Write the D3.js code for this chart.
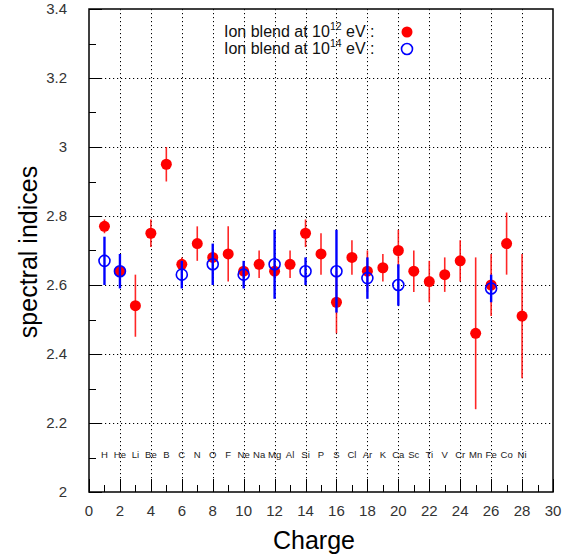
<!DOCTYPE html>
<html>
<head>
<meta charset="utf-8">
<script src="https://cdn.jsdelivr.net/npm/d3@7"></script>
<style>
  html, body { margin: 0; padding: 0; background: #fff; }
  svg { display: block; }
  text { font-family: "Liberation Sans", Arial, Helvetica, sans-serif; }
</style>
</head>
<body>
<svg id="chart" width="575" height="557"></svg>
<script>
// Element symbols by nuclear charge
const elements = ["H","He","Li","Be","B","C","N","O","F","Ne","Na","Mg","Al","Si",
  "P","S","Cl","Ar","K","Ca","Sc","Ti","V","Cr","Mn","Fe","Co","Ni"];
const charges = d3.range(1, 29);

// Spectral indices for the ion blend at 10^12 eV (Z = 1..28)
const index12 = [2.77,2.64,2.54,2.75,2.95,2.66,2.72,2.68,2.69,2.64,2.66,2.64,2.66,2.75,
  2.69,2.55,2.68,2.64,2.65,2.70,2.64,2.61,2.63,2.67,2.46,2.60,2.72,2.51];
const errLo12 = [0.02,0.01,0.09,0.04,0.05,0.02,0.05,0.02,0.08,0.02,0.04,0.02,0.04,0.04,
  0.06,0.09,0.05,0.06,0.04,0.05,0.06,0.06,0.05,0.06,0.22,0.09,0.09,0.18];
const errHi12 = [0.02,0.01,0.09,0.04,0.05,0.02,0.05,0.02,0.08,0.02,0.04,0.02,0.04,0.04,
  0.06,0.09,0.05,0.06,0.04,0.06,0.06,0.06,0.05,0.06,0.22,0.09,0.09,0.18];

// Spectral indices for the ion blend at 10^14 eV
const charges14 = [1, 2, 6, 8, 10, 12, 14, 16, 18, 20, 26];
const index14 = [2.67,2.64,2.63,2.66,2.63,2.66,2.64,2.64,2.62,2.60,2.59];
const errLo14 = [0.07,0.05,0.04,0.06,0.04,0.10,0.04,0.12,0.06,0.06,0.04];
const errHi14 = [0.07,0.05,0.04,0.06,0.04,0.10,0.04,0.12,0.06,0.06,0.04];

// Axis ticks
const xMajor = d3.range(0, 31, 2);
const xMinor = d3.range(0, 31, 1);
const yMajor = [2.0, 2.2, 2.4, 2.6, 2.8, 3.0, 3.2, 3.4];
const yMinor = d3.range(0, 15).map(i => 2 + i * 0.1);

const legendLabels = [
  { base: "Ion blend at 10", exp: "12", tail: " eV :" },
  { base: "Ion blend at 10", exp: "14", tail: " eV :" }
];

const svg = d3.select("#chart");
const L = 89, R = 553, T = 9, B = 492;
const x = d3.scaleLinear().domain([0, 30]).range([L, R]);
const y = d3.scaleLinear().domain([2, 3.4]).range([B, T]);

// Dotted grid
const grid = svg.append("g").attr("stroke", "#000").attr("stroke-width", 1)
  .attr("stroke-dasharray", "1.2,2.8");
grid.selectAll("line.gx").data(xMajor.filter(v => v > 0 && v < 30)).join("line")
  .attr("x1", d => Math.round(x(d)) + 0.5).attr("x2", d => Math.round(x(d)) + 0.5)
  .attr("y1", T).attr("y2", B);
grid.selectAll("line.gy").data(yMajor.filter(v => v > 2 && v < 3.4)).join("line")
  .attr("y1", d => Math.round(y(d)) + 0.5).attr("y2", d => Math.round(y(d)) + 0.5)
  .attr("x1", L).attr("x2", R);

// Ticks pointing inward
const ticks = svg.append("g").attr("stroke", "#000").attr("stroke-width", 1);
ticks.selectAll("line.tx").data(xMinor).join("line")
  .attr("x1", d => Math.round(x(d)) + 0.5).attr("x2", d => Math.round(x(d)) + 0.5)
  .attr("y1", B).attr("y2", d => B - (d % 2 === 0 ? 13 : 7));
ticks.selectAll("line.ty").data(yMinor).join("line")
  .attr("y1", d => Math.round(y(d)) + 0.5).attr("y2", d => Math.round(y(d)) + 0.5)
  .attr("x1", L).attr("x2", (d, i) => L + (i % 2 === 0 ? 13 : 7));

// Frame
svg.append("rect").attr("x", L).attr("y", T).attr("width", R - L).attr("height", B - T)
  .attr("fill", "none").attr("stroke", "#000").attr("stroke-width", 1.5);

// Tick labels
svg.append("g").selectAll("text").data(xMajor).join("text")
  .attr("x", d => x(d)).attr("y", 516).attr("text-anchor", "middle")
  .attr("font-size", 15).attr("fill", "#333").text(d => d);
svg.append("g").selectAll("text").data(yMajor).join("text")
  .attr("x", 67).attr("y", d => y(d) + 5).attr("text-anchor", "end")
  .attr("font-size", 15).attr("fill", "#333").text(d => d3.format("~g")(d));

// Axis titles
svg.append("text").attr("x", 314).attr("y", 549).attr("text-anchor", "middle")
  .attr("font-size", 25).attr("fill", "#000").text("Charge");
svg.append("text").attr("transform", "translate(37,252) rotate(-90)")
  .attr("text-anchor", "middle").attr("font-size", 25).attr("fill", "#000")
  .text("spectral indices");

// Element symbols along the bottom
svg.append("g").selectAll("text").data(charges).join("text")
  .attr("x", d => x(d)).attr("y", 458).attr("text-anchor", "middle")
  .attr("font-size", 9.5).attr("fill", "#222").text((d, i) => elements[i]);

// Series at 10^12 eV: red filled circles
const red = svg.append("g");
red.selectAll("line").data(charges).join("line")
  .attr("x1", d => x(d)).attr("x2", d => x(d))
  .attr("y1", (d, i) => y(index12[i] + errHi12[i]))
  .attr("y2", (d, i) => y(index12[i] - errLo12[i]))
  .attr("stroke", "#f00").attr("stroke-opacity", 0.85).attr("stroke-width", 1.6);
red.selectAll("circle").data(charges).join("circle")
  .attr("cx", d => x(d)).attr("cy", (d, i) => y(index12[i]))
  .attr("r", 5.5).attr("fill", "#f00");

// Series at 10^14 eV: blue open circles
const blue = svg.append("g");
blue.selectAll("line").data(charges14).join("line")
  .attr("x1", d => x(d)).attr("x2", d => x(d))
  .attr("y1", (d, i) => y(index14[i] + errHi14[i]))
  .attr("y2", (d, i) => y(index14[i] - errLo14[i]))
  .attr("stroke", "#00f").attr("stroke-width", 2.4);
blue.selectAll("circle").data(charges14).join("circle")
  .attr("cx", d => x(d)).attr("cy", (d, i) => y(index14[i]))
  .attr("r", 5.5).attr("fill", "none").attr("stroke", "#00f").attr("stroke-width", 1.6);

// Legend
const leg = svg.append("g");
legendLabels.forEach((lab, i) => {
  const ty = 37 + i * 17;
  const t = leg.append("text").attr("x", 224).attr("y", ty)
    .attr("font-size", 16).attr("fill", "#111");
  t.append("tspan").text(lab.base);
  t.append("tspan").attr("font-size", 10.5).attr("dy", -7).text(lab.exp);
  t.append("tspan").attr("dy", 7).text(lab.tail);
});
leg.append("circle").attr("cx", 407).attr("cy", 32).attr("r", 5.5).attr("fill", "#f00");
leg.append("circle").attr("cx", 407).attr("cy", 49).attr("r", 5.5)
  .attr("fill", "none").attr("stroke", "#00f").attr("stroke-width", 1.6);
</script>
</body>
</html>
